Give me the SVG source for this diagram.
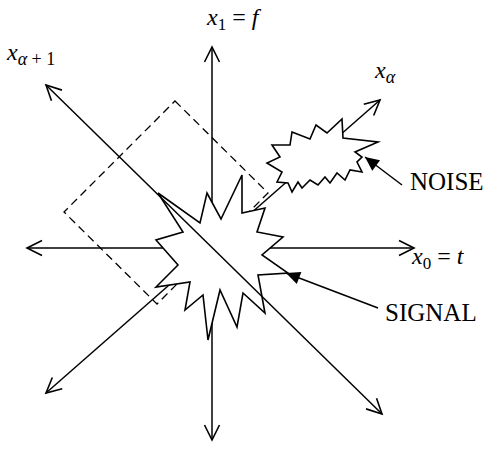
<svg xmlns="http://www.w3.org/2000/svg" width="486" height="457" viewBox="0 0 486 457">
<style>
.ax{stroke:#000;stroke-width:1.5;fill:none;marker-end:url(#oa);marker-start:url(#oa)}
.star{fill:#fff;stroke:#000;stroke-width:1.6;stroke-linejoin:miter}
.dash{fill:none;stroke:#000;stroke-width:1.3;stroke-dasharray:8,5}
.ptr{stroke:#000;stroke-width:1.5;fill:none;marker-end:url(#fa)}
text{font-family:"Liberation Serif","Times New Roman",serif;fill:#000}
.m{font-size:24px}
.i{font-style:italic}
.lab{font-size:25px}
</style>
<defs>
<marker id="oa" markerUnits="userSpaceOnUse" viewBox="-17 -9 19 18" markerWidth="19" markerHeight="18" refX="0" refY="0" orient="auto-start-reverse" overflow="visible">
<path d="M-15,-7.5 L0,0 L-15,7.5" fill="none" stroke="#000" stroke-width="1.6"/>
</marker>
<marker id="fa" markerUnits="userSpaceOnUse" viewBox="-15 -7 16 14" markerWidth="16" markerHeight="14" refX="0" refY="0" orient="auto" overflow="visible">
<path d="M-14,-6.5 L0,0 L-14,6.5 z" fill="#000"/>
</marker>
</defs>
<g id="connectors">
<line id="axis-x1" class="ax" x1="212" y1="440" x2="212" y2="47"/>
<line id="axis-x0" class="ax" x1="27" y1="248" x2="414" y2="248"/>
<line id="axis-xalpha" class="ax" x1="46" y1="393" x2="380" y2="100"/>
</g>
<g id="region">
<polygon class="dash" points="175,101 268,193 157,304 64,212"/>
</g>
<g id="signal">
<polygon class="star" points="158,193 200,223 207,193 221,219 242,175 242,213 265,208 257,232 283,237 262,255 288,273 258,275 265,313 243,293 237,327 220,290 208,340 203,295 185,310 190,282 156,287 178,265 156,240 183,232"/>
</g>
<g id="noise">
<polygon class="star" points="292,132 310,139 316,125 327,133 342,119 343,138 378,142 355,152 362,157 357,162 362,172 350,170 345,180 337,173 330,183 325,177 318,185 310,180 302,188 298,182 292,192 288,183 277,182 282,172 267,163 280,157 272,145 290,145"/>
</g>
<g id="axis-xalpha1">
<line class="ax" x1="46" y1="85" x2="382" y2="414"/>
</g>
<g id="pointers">
<line id="noise-pointer" class="ptr" x1="402" y1="185" x2="365" y2="157"/>
<line id="signal-pointer" class="ptr" x1="378" y1="308" x2="286" y2="273"/>
</g>
<g id="labels">
<text class="m" x="207" y="25"><tspan class="i">x</tspan><tspan font-size="17" dy="5">1</tspan><tspan dy="-5"> = </tspan><tspan class="i">f</tspan></text>
<text class="m" x="7" y="60"><tspan class="i">x</tspan><tspan font-size="18" dy="5"><tspan class="i">α</tspan> + 1</tspan></text>
<text class="m" x="375" y="78"><tspan class="i">x</tspan><tspan class="i" font-size="18" dy="5">α</tspan></text>
<text class="m" x="412" y="264"><tspan class="i">x</tspan><tspan font-size="17" dy="5">0</tspan><tspan dy="-5"> = </tspan><tspan class="i">t</tspan></text>
<text class="lab" x="410" y="190">NOISE</text>
<text class="lab" x="385" y="321">SIGNAL</text>
</g>
</svg>
